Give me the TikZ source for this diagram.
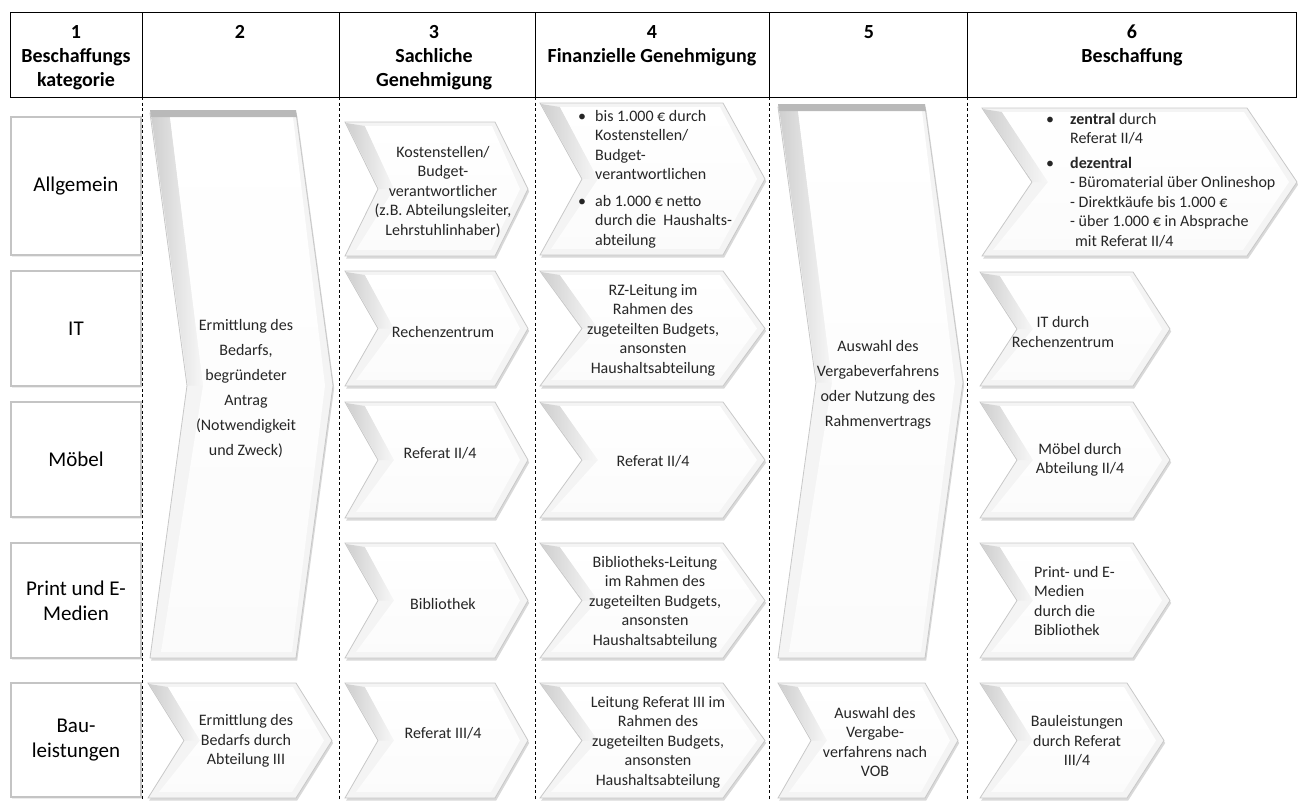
\documentclass[tikz,border=0pt]{standalone}
\usepackage{fontspec}
\setmainfont{Carlito}
\usetikzlibrary{calc,shadows}
\definecolor{ink}{HTML}{262626}
\definecolor{rim}{HTML}{C4C4C4}
\definecolor{edge}{HTML}{C8C8C8}

\tikzset{
  chevrim/.style={draw=edge, line width=.8pt, fill=gray!9,
    drop shadow={shadow xshift=1.2pt, shadow yshift=-2.5pt, opacity=.25, fill=black!60}},
  chevface/.style={top color=white, bottom color=gray!3},
  chevnotch/.style={left color=gray!38, right color=gray!6},
  topband/.style={fill=gray!55},
}

% chevron: left x, top y, shoulder x, bottom y, point depth
\newcommand{\chev}[5]{%
  \pgfmathsetmacro\cmid{(#2+#4)/2}%
  \path[chevrim] (#1,#2) -- (#3,#2) -- (#3+#5,\cmid) -- (#3,#4) -- (#1,#4) -- (#1+#5,\cmid) -- cycle;
  \path[chevnotch] (#1+1,#2+1) -- (#1+20,#2+4) -- (#1+#5+16,\cmid) -- (#1+#5+1,\cmid) -- cycle;
  \path[chevface] (#1+20,#2+4) -- (#3-3,#2+4) -- (#3+#5-8,\cmid) -- (#3-4,#4-6) -- (#1+11,#4-6) -- (#1+#5+16,\cmid) -- cycle;
}

\begin{document}
\begin{tikzpicture}[
  x=1pt, y=-1pt,
  every node/.append style={inner sep=0pt, text=ink},
  hdr/.style={font=\fontsize{20}{24}\selectfont\bfseries, align=center, anchor=north, text=black},
  cat/.style={font=\fontsize{21}{25}\selectfont, align=center, text=black},
  lbl/.style={font=\fontsize{16}{19.5}\selectfont, align=center},
  lbll/.style={lbl, align=left},
  big/.style={font=\fontsize{16}{25}\selectfont, align=center},
  catbox/.style={draw=rim, line width=1.6pt, fill=white, minimum width=130pt,
    drop shadow={shadow xshift=1pt, shadow yshift=-1.5pt, opacity=.15}},
  hdrline/.style={draw=black, line width=.8pt},
  sep/.style={draw=black, line width=.6pt, dash pattern=on 3pt off 2.5pt},
]
\useasboundingbox (0,0) rectangle (1298,801);

% Header
\draw[hdrline] (10,12) rectangle (1296,97);
\foreach \x in {142,339,535,769,967}{
  \draw[hdrline] (\x,12) -- (\x,97);
}
\node[hdr] (h1) at (76,25) {1\\Beschaffungs\\kategorie};
\node[hdr] (h2) at (240,25) {2};
\node[hdr] (h3) at (434,25) {3\\Sachliche\\Genehmigung};
\node[hdr] (h4) at (652,25) {4\\Finanzielle Genehmigung};
\node[hdr] (h5) at (869,25) {5};
\node[hdr] (h6) at (1132,25) {6\\Beschaffung};

% Categories
\node[catbox, minimum height=138pt] (allg) at (76,186) {};
\node[catbox, minimum height=115pt] (it) at (76,328.5) {};
\node[catbox, minimum height=115pt] (moe) at (76,459.5) {};
\node[catbox, minimum height=115pt] (med) at (76,600.5) {};
\node[catbox, minimum height=114pt] (bau) at (76,740) {};
\node[cat] at (allg) {Allgemein};
\node[cat] at (it) {IT};
\node[cat] at (moe) {Möbel};
\node[cat] at (med) {Print und E-\\Medien};
\node[cat] at (bau) {Bau-\\leistungen};

% Column separators
\foreach \x in {142,339,535,769,967}{
  \draw[sep] (\x,97) -- (\x,800);
}

% Column 2
\chev{150}{113}{296}{658}{37}
\fill[topband] (150,110) -- (296,110) -- (297,117) -- (151,117) -- cycle;
\chev{148}{683}{296}{798}{36}
\node[big] (bedarf) at (246,389) {Ermittlung des\\Bedarfs,\\begründeter\\Antrag\\(Notwendigkeit\\und Zweck)};
\node[lbl] (bedarfbau) at (246,741) {Ermittlung des\\Bedarfs durch\\Abteilung III};

% Column 3
\foreach \t/\b in {122/256,271/386,402/518,543/658,683/798}{
  \chev{345}{\t}{495}{\b}{33}
}
\node[lbl] (kst) at (443,192) {Kostenstellen/\\Budget-\\verantwortlicher\\(z.B. Abteilungsleiter,\\Lehrstuhlinhaber)};
\node[lbl] (rz) at (443,332) {Rechenzentrum};
\node[lbl] (refzwei) at (440,453) {Referat II/4};
\node[lbl] (bib) at (443,604) {Bibliothek};
\node[lbl] (refdrei) at (443,733) {Referat III/4};

% Column 4
\foreach \t/\b in {103/255,271/386,402/518,543/658,683/798}{
  \chev{540}{\t}{723}{\b}{42}
}
\node[lbll, anchor=north west] (fin) at (578,110)
  {\makebox[17pt][l]{•}bis 1.000 € durch\\
   \hspace*{17pt}Kostenstellen/\\
   \hspace*{17pt}Budget-\\
   \hspace*{17pt}verantwortlichen\\[7pt]
   \makebox[17pt][l]{•}ab 1.000 € netto\\
   \hspace*{17pt}durch die\ \ Haushalts-\\
   \hspace*{17pt}abteilung};
\node[lbl] (finit) at (653,330) {RZ-Leitung im\\Rahmen des\\zugeteilten Budgets,\\ansonsten\\Haushaltsabteilung};
\node[lbl] (finmoe) at (653,461) {Referat II/4};
\node[lbl] (finbib) at (655,602) {Bibliotheks-Leitung\\im Rahmen des\\zugeteilten Budgets,\\ansonsten\\Haushaltsabteilung};
\node[lbl] (finbau) at (658,742) {Leitung Referat III im\\Rahmen des\\zugeteilten Budgets,\\ansonsten\\Haushaltsabteilung};

% Column 5
\chev{778}{107}{925}{658}{38}
\fill[topband] (778,104) -- (925,104) -- (926,111) -- (779,111) -- cycle;
\chev{778}{683}{925}{798}{33}
\node[big] (vergabe) at (878,385) {Auswahl des\\Vergabeverfahrens\\oder Nutzung des\\Rahmenvertrags};
\node[lbl] (vob) at (875,742) {Auswahl des\\Vergabe-\\verfahrens nach\\VOB};

% Column 6
\chev{982}{108}{1247}{256}{50}
\foreach \t/\b in {272/386,402/518,543/658}{
  \chev{980}{\t}{1133}{\b}{37}
}
\chev{980}{683}{1127}{798}{37}
\node[lbll, anchor=north west] (besch) at (1046,113)
  {\makebox[24pt][l]{•}\textbf{zentral} durch\\
   \hspace*{24pt}Referat II/4\\[5pt]
   \makebox[24pt][l]{•}\textbf{dezentral}\\
   \hspace*{24pt}- Büromaterial über Onlineshop\\
   \hspace*{24pt}- Direktkäufe bis 1.000 €\\
   \hspace*{24pt}- über 1.000 € in Absprache\\
   \hspace*{29pt}mit Referat II/4};
\node[lbl] (beschit) at (1063,332) {IT durch\\Rechenzentrum};
\node[lbl] (beschmoe) at (1080,460) {Möbel durch\\Abteilung II/4};
\node[lbll, anchor=west] (beschmed) at (1034,601) {Print- und E-\\Medien\\durch die\\Bibliothek};
\node[lbl] (beschbau) at (1077,741) {Bauleistungen\\durch Referat\\III/4};

\end{tikzpicture}
\end{document}
